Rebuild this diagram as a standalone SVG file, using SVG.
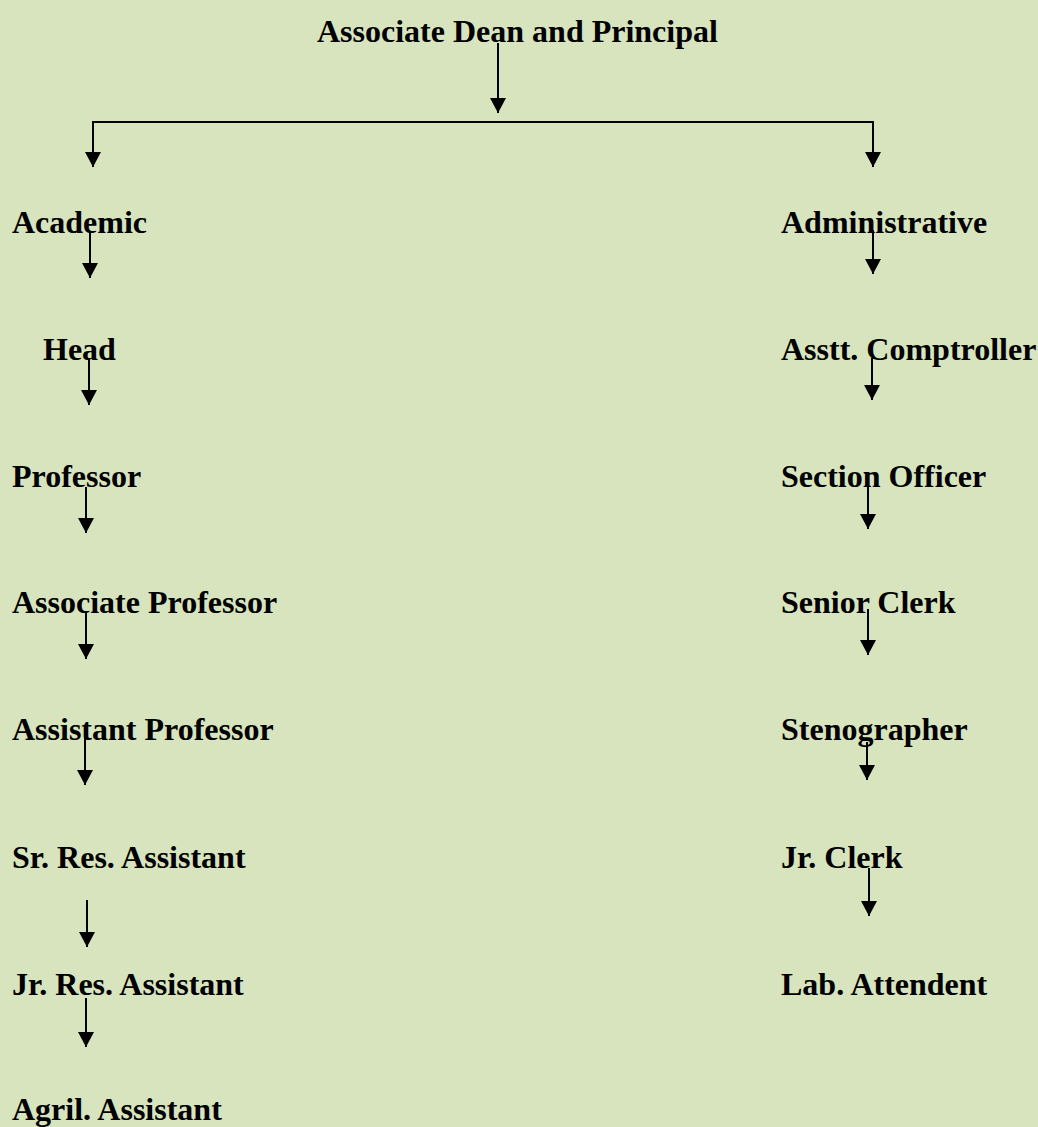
<svg xmlns="http://www.w3.org/2000/svg" width="1038" height="1127" viewBox="0 0 1038 1127">
<style>
text{font-family:"Liberation Serif","Times New Roman",serif;font-weight:bold;font-size:32px;fill:#000}
.c{stroke:#000;stroke-width:2;fill:none}
.a{marker-end:url(#ah)}
</style>
<defs>
<marker id="ah" viewBox="0 0 15 16" refX="15" refY="8" markerWidth="15" markerHeight="16" markerUnits="userSpaceOnUse" orient="auto">
<path d="M0,0 L15,8 L0,16 z" fill="#000"/>
</marker>
</defs>
<rect width="1038" height="1127" fill="#D7E4BD"/>
<g id="connectors">
<line class="c a" x1="498" y1="43" x2="498" y2="113"/>
<polyline class="c" points="93,167 93,122 873,122 873,167" style="marker-end:none"/>
<line class="c a" x1="93" y1="122" x2="93" y2="167"/>
<line class="c a" x1="873" y1="122" x2="873" y2="167"/>
<line class="c a" x1="90" y1="232" x2="90" y2="278"/>
<line class="c a" x1="89" y1="358" x2="89" y2="405"/>
<line class="c a" x1="86" y1="487" x2="86" y2="533"/>
<line class="c a" x1="86" y1="613" x2="86" y2="659"/>
<line class="c a" x1="85" y1="738" x2="85" y2="785"/>
<line class="c a" x1="87" y1="900" x2="87" y2="947"/>
<line class="c a" x1="86" y1="998" x2="86" y2="1047"/>
<line class="c a" x1="873" y1="230" x2="873" y2="274"/>
<line class="c a" x1="872" y1="358" x2="872" y2="400"/>
<line class="c a" x1="868" y1="483" x2="868" y2="529"/>
<line class="c a" x1="868" y1="609" x2="868" y2="655"/>
<line class="c a" x1="867" y1="742" x2="867" y2="780"/>
<line class="c a" x1="869" y1="868" x2="869" y2="916"/>
</g>
<g id="n-dean"><text x="317" y="42">Associate Dean and Principal</text></g>
<g id="n-academic"><text x="12" y="233">Academic</text></g>
<g id="n-head"><text x="43" y="360">Head</text></g>
<g id="n-professor"><text x="12" y="487">Professor</text></g>
<g id="n-assocprof"><text x="12" y="613">Associate Professor</text></g>
<g id="n-asstprof"><text x="12" y="740">Assistant Professor</text></g>
<g id="n-srres"><text x="12" y="868">Sr. Res. Assistant</text></g>
<g id="n-jrres"><text x="12" y="995">Jr. Res. Assistant</text></g>
<g id="n-agril"><text x="12" y="1120">Agril. Assistant</text></g>
<g id="n-admin"><text x="781" y="233">Administrative</text></g>
<g id="n-comptroller"><text x="781" y="360">Asstt. Comptroller</text></g>
<g id="n-section"><text x="781" y="487">Section Officer</text></g>
<g id="n-senior"><text x="781" y="613">Senior Clerk</text></g>
<g id="n-steno"><text x="781" y="740">Stenographer</text></g>
<g id="n-jrclerk"><text x="781" y="868">Jr. Clerk</text></g>
<g id="n-lab"><text x="781" y="995">Lab. Attendent</text></g>
</svg>
